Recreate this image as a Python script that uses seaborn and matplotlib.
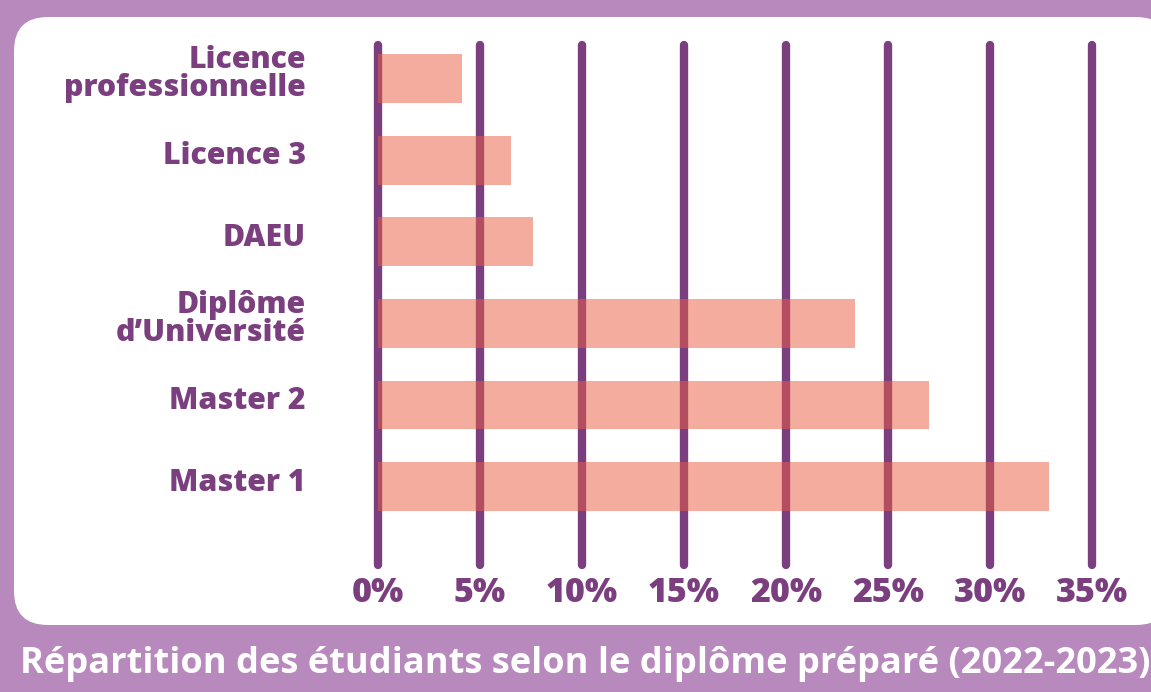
import numpy as np
import pandas as pd
import matplotlib
matplotlib.use('Agg')
import matplotlib.pyplot as plt
import seaborn as sns
from matplotlib.patches import FancyBboxPatch

# Data
diplomes = ['Licence\nprofessionnelle', 'Licence 3', 'DAEU',
            'Diplôme\nd\u2019Université', 'Master 2', 'Master 1']
parts = [4.1, 6.5, 7.6, 23.4, 27.0, 32.9]
ticks = [0, 5, 10, 15, 20, 25, 30, 35]
tick_labels = [f'{t}%' for t in ticks]
titre = 'Répartition des étudiants selon le diplôme préparé (2022-2023)'

# Colours
violet = '#7B3F80'
fond = '#B789BC'
saumon = '#EB5B41'

sns.set_style('white')
plt.rcParams['font.family'] = ['Open Sans', 'DejaVu Sans']

W, H = 1151, 692
fig = plt.figure(figsize=(W / 100, H / 100), dpi=100, facecolor=fond)

# background axes in pixel units (white rounded card + title)
bg = fig.add_axes([0, 0, 1, 1], zorder=0)
bg.set_xlim(0, W)
bg.set_ylim(H, 0)
bg.axis('off')
bg.add_patch(FancyBboxPatch((14, 17), 1170 - 14, 625 - 17,
                            boxstyle='round,pad=0,rounding_size=34',
                            facecolor='white', edgecolor='none'))
# the title runs off the right edge in the original too
bg.text(20, 664, titre, color='white', fontsize=26.1, fontweight='bold',
        ha='left', va='center')

# main chart
x0, x1 = 378, 1092
y_top, y_bot = 45, 565
ax = fig.add_axes([x0 / W, (H - y_bot) / H, (x1 - x0) / W, (y_bot - y_top) / H], zorder=1)
ax.patch.set_alpha(0)

df = pd.DataFrame({'diplome': diplomes, 'part': parts})

for t in ticks:
    ax.axvline(t, color=violet, lw=6, solid_capstyle='round', clip_on=False, zorder=1)

sns.barplot(data=df, x='part', y='diplome', color=saumon, alpha=0.5,
            width=0.6, saturation=1, linewidth=0, ax=ax, zorder=2)

ax.set_xlim(0, 35)
ax.set_ylim(5.96, -0.41)
ax.set_xticks(ticks)
ax.set_xticklabels(tick_labels)
# labels sit slightly above the bar centres in the original
ax.set_yticks(np.arange(len(diplomes)) - 0.09)
ax.set_yticklabels(diplomes)
ax.set_xlabel('')
ax.set_ylabel('')
ax.tick_params(axis='x', length=0, pad=8, labelsize=24.5, labelcolor=violet)
ax.tick_params(axis='y', length=0, pad=52, labelsize=21.8, labelcolor=violet)
for lab in ax.get_xticklabels() + ax.get_yticklabels():
    lab.set_fontweight(800)
for lab in ax.get_yticklabels():
    lab.set_linespacing(0.92)
sns.despine(ax=ax, left=True, bottom=True)

fig.savefig('out.png', dpi=100, facecolor=fond)
